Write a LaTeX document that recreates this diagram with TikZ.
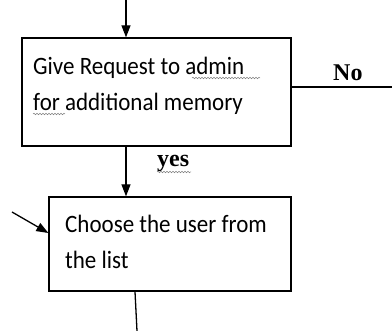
\documentclass[tikz,border=0pt]{standalone}
\usepackage{fontspec}
\setmainfont{Carlito}
\newfontfamily\stepfont[FakeStretch=0.92]{Carlito}
\newfontfamily\labelfont{Liberation Serif}
\usetikzlibrary{arrows.meta, positioning, calc, decorations.pathmorphing}

\tikzset{
    stepbox/.style={draw, line width=1.3pt, inner sep=0pt},
    steptext/.style={inner sep=0pt, align=left, anchor=west, font=\stepfont\fontsize{25}{36}\selectfont},
    answer/.style={inner sep=0pt, anchor=base west, font=\labelfont\bfseries\fontsize{24}{24}\selectfont},
    flow/.style={line width=1.3pt, -{Triangle[length=12pt, width=9pt]}},
    wire/.style={line width=1.3pt},
    squiggle/.style={gray, line width=0.5pt, decorate, decoration={snake, segment length=3pt, amplitude=0.8pt}}
}

\begin{document}
\begin{tikzpicture}[x=1pt, y=-1pt]
    \useasboundingbox (0,0) rectangle (392,331);

    \node[stepbox, minimum width=269pt, minimum height=108pt] (req) at (156.5,92) {};
    \node[steptext] (reqtext) at (33,86) {Give Request to admin\\for additional memory};

    \node[stepbox, minimum width=242pt, minimum height=94pt] (user) at (170,244) {};
    \node[steptext] (usertext) at (65,242) {Choose the user from\\the list};

    \coordinate (top) at (126,0);
    \coordinate (noend) at (392,87);
    \coordinate (side) at (12,212);
    \coordinate (down) at (137,331);

    \draw[flow] (top) -- (top |- req.north);
    \draw[flow] (top |- req.south) -- (top |- user.north);
    \draw[wire] (req.east |- noend) -- (noend);
    \draw[flow] (side) -- ([yshift=11pt]user.west);
    \draw[wire] ([xshift=-35pt]user.south) -- (down);

    \node[answer] (no) at (333,81) {No};
    \node[answer] (yes) at (157,167) {yes};

    % spelling marks under the words
    \draw[squiggle] (192,78) -- (260,78);
    \draw[squiggle] (33,114) -- (65,114);
    \draw[squiggle] (157,172) -- (191,172);
\end{tikzpicture}
\end{document}
